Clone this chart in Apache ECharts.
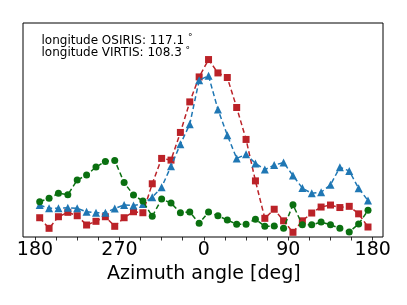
<!DOCTYPE html>
<html>
<head>
<meta charset="utf-8">
<script src="https://cdn.jsdelivr.net/npm/echarts@6/dist/echarts.min.js"></script>
<style>html,body{margin:0;padding:0;background:#fff}#c{width:407px;height:305px}</style>
</head>
<body>
<div id="c"></div>
<script>
// Azimuth angle of each sample (deg)
var azimuth = [-175,-165,-155,-145,-135,-125,-115,-105,-95,-85,-75,-65,-55,-45,-35,-25,-15,-5,5,15,25,35,45,55,65,75,85,95,105,115,125,135,145,155,165,175];
// Relative intensity (arbitrary units)
var osiris = [19.3,8.7,20.3,24.7,21.3,12,15.7,20.3,10.7,19.3,25.3,24.3,53.3,78.7,77,104.7,135.3,160.3,177.7,164.3,159.7,129.7,97.7,56.2,18.7,27.8,16.2,4.7,16.2,24,30,32,29.5,30.7,23.2,10];
var virtis = [32,28.7,28.7,29.3,28.7,25.3,24.3,24.3,28.5,32,31.5,33,39.8,49.8,70.8,93,113,157,161.5,127.7,102,78.7,82.8,73.7,67.5,72,74.5,61.5,49,43.7,44.8,52.3,69.8,66.2,48.7,36.5];
var third = [35.3,38.7,43.7,42.3,57,62,70,75.7,76.7,54.5,42,36,20.7,38,34,24.3,25,13.7,25,21.2,17,12.8,12.8,17.8,10.7,11,8.8,32.3,12.2,12.2,15,12.2,8.7,5,13,26.7];
var tickLabels = {'-180':'180','-90':'270','0':'0','90':'90','180':'180'};
var legendLines = ['longitude OSIRIS: 117.1', 'longitude VIRTIS: 108.3'];

function pairs(ys){ return azimuth.map(function(a,i){ return [a, ys[i]]; }); }

var chart = echarts.init(document.getElementById('c'), null, {renderer:'canvas'});
var ff = 'DejaVu Sans';
function mk(name, data, color, symbol, size, z){
  return {
    name: name, type:'line', xAxisIndex:1, yAxisIndex:1, data: pairs(data),
    symbol: symbol, symbolSize: size, z: z,
    lineStyle:{color:color, width:1.5, type:[5,3]},
    itemStyle:{color:color},
    emphasis:{disabled:true}, animation:false
  };
}
var degRich = {d:{fontSize:9, fontFamily:ff, fill:'#000', verticalAlign:'top', padding:[0,0,5,0]}};
chart.setOption({
  animation:false,
  grid:[
    {left:23, top:23, width:360, height:214, show:true, borderColor:'#000', borderWidth:1, backgroundColor:'transparent'},
    {left:35, top:23, width:337.7, height:214}
  ],
  xAxis:[
    {gridIndex:0, type:'value', min:0, max:1, show:false},
    {gridIndex:1, type:'value', min:-180, max:180, interval:22.5,
     axisLine:{show:false}, splitLine:{show:false},
     axisTick:{show:true, inside:false, length:3.5, lineStyle:{color:'#000', width:0.8}},
     axisLabel:{show:true, margin:4, fontFamily:ff, fontSize:19, color:'#000', hideOverlap:false,
       showMinLabel:true, showMaxLabel:true,
       formatter:function(v){ var k=String(v); return tickLabels.hasOwnProperty(k)?tickLabels[k]:''; }},
     name:'Azimuth angle [deg]', nameLocation:'middle', nameGap:21,
     nameTextStyle:{fontFamily:ff, fontSize:19, color:'#000'}}
  ],
  yAxis:[
    {gridIndex:0, type:'value', min:0, max:1, show:false},
    {gridIndex:1, type:'value', min:0, max:214.3, show:false}
  ],
  graphic:[
    {type:'text', left:41.5, top:33.5, style:{text:legendLines[0]+' {d|°}', rich:degRich, fontFamily:ff, fontSize:12, fill:'#000'}},
    {type:'text', left:41.5, top:46, style:{text:legendLines[1]+' {d|°}', rich:degRich, fontFamily:ff, fontSize:12, fill:'#000'}}
  ],
  series:[
    mk('OSIRIS', osiris, '#bb2228', 'rect', 7, 3),
    mk('VIRTIS', virtis, '#1f77b4', 'triangle', 8, 4),
    mk('other', third, '#0a7010', 'circle', 7, 5)
  ]
});
</script>
</body>
</html>
